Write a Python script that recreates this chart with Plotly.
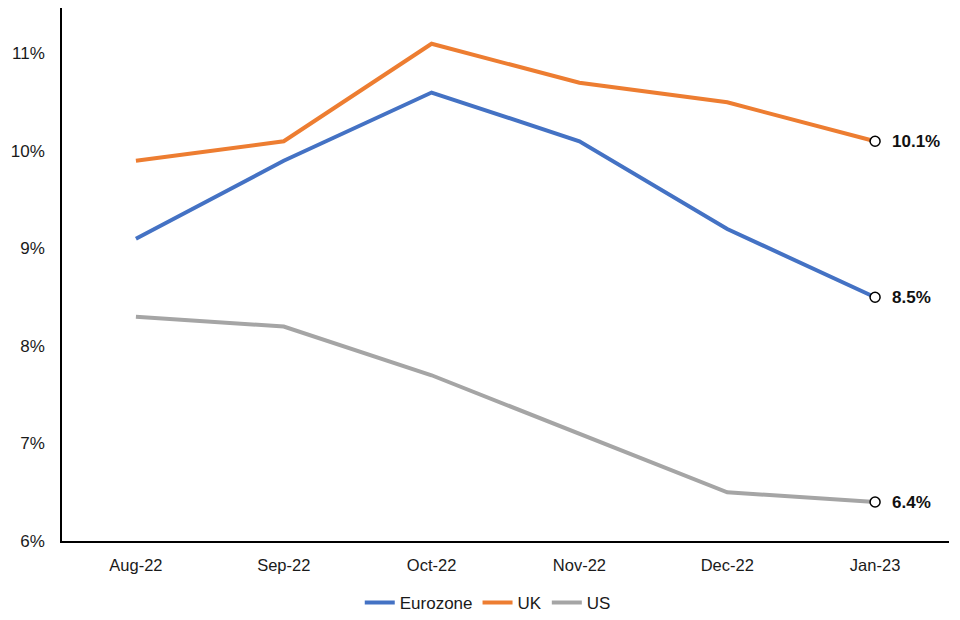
import plotly.graph_objects as go

months = ["Aug-22", "Sep-22", "Oct-22", "Nov-22", "Dec-22", "Jan-23"]
eurozone = [9.1, 9.9, 10.6, 10.1, 9.2, 8.5]
uk = [9.9, 10.1, 11.1, 10.7, 10.5, 10.1]
us = [8.3, 8.2, 7.7, 7.1, 6.5, 6.4]
series_names = ["Eurozone", "UK", "US"]
colors = ["#4472C4", "#ED7D31", "#A5A5A5"]
y_ticks = [6, 7, 8, 9, 10, 11]

FONT = "Liberation Sans"
fig = go.Figure()
for name, vals, col in zip(series_names, [eurozone, uk, us], colors):
    fig.add_trace(go.Scatter(x=months, y=vals, mode="lines", name=name,
                             line=dict(color=col, width=4)))
for name, vals, col in zip(series_names, [eurozone, uk, us], colors):
    fig.add_trace(go.Scatter(x=[months[-1]], y=[vals[-1]], mode="markers",
                             showlegend=False, cliponaxis=False,
                             marker=dict(symbol="circle", size=10, color="white",
                                         line=dict(color="black", width=1.5))))
    fig.add_annotation(x=months[-1], y=vals[-1], text="<b>%.1f%%</b>" % vals[-1],
                       showarrow=False, xanchor="left", yanchor="middle", xshift=15,
                       font=dict(size=17, color="#111", family=FONT))

fig.update_layout(
    width=960, height=620,
    margin=dict(l=54, r=19, t=0, b=87, autoexpand=False),
    paper_bgcolor="white", plot_bgcolor="white",
    font=dict(family=FONT, size=16, color="#1a1a1a"),
    showlegend=True,
    legend=dict(orientation="h", x=0.48, xanchor="center", y=-0.1163, yanchor="middle",
                font=dict(size=17), tracegroupgap=0),
    xaxis=dict(type="category", showgrid=False, showline=True, linecolor="black",
               linewidth=1.5, ticks="", tickfont=dict(size=16.5), range=[-0.5, 5.5],
               automargin=False, ticklabelstandoff=8),
    yaxis=dict(range=[6, 11.467], tickvals=y_ticks, ticktext=["%d%%" % v for v in y_ticks],
               showgrid=False, showline=True, linecolor="black", linewidth=1.5,
               ticks="", tickfont=dict(size=17), zeroline=False, automargin=False,
               ticklabelstandoff=12),
)
fig.write_html("out.html")
